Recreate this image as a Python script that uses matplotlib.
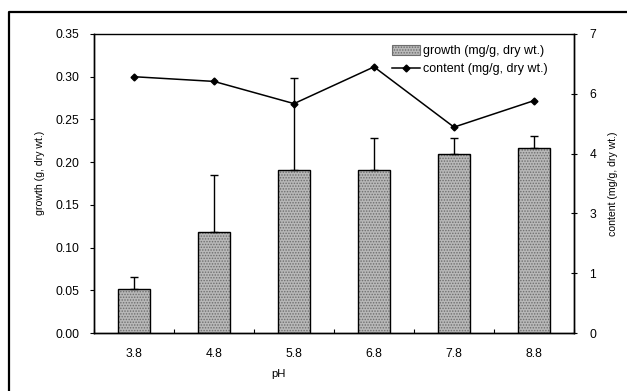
import numpy as np
import matplotlib
matplotlib.use("Agg")
from matplotlib import pyplot as plt
from matplotlib.patches import Patch
from matplotlib.lines import Line2D
from matplotlib.ticker import FormatStrFormatter

# pH series: growth (bars, left axis) and content (line, right axis)
ph = ['3.8', '4.8', '5.8', '6.8', '7.8', '8.8']
growth = [0.052, 0.118, 0.191, 0.191, 0.210, 0.216]
growth_err = [0.013, 0.067, 0.107, 0.037, 0.018, 0.015]
content = [6.00, 5.89, 5.37, 6.23, 4.82, 5.44]

plt.rcParams['font.family'] = ['Liberation Sans', 'DejaVu Sans']
plt.rcParams['hatch.linewidth'] = 0.7

fig = plt.figure(figsize=(6.27, 3.91), dpi=100)
ax = fig.add_axes([94/627, 1 - 333/391, 480/627, 299/391])
ax2 = ax.twinx()

x = np.arange(len(ph))
w = 0.41
bar_face = '#b8b8b8'
stipple = '#6e6e6e'
tick_fs = 8.7

# stippled fill, then a black outline on top
ax.bar(x, growth, width=w, color=bar_face, edgecolor=stipple, hatch='......',
       linewidth=0, zorder=2)
ax.bar(x, growth, width=w, fill=False, edgecolor='black', linewidth=1.0, zorder=3)
ax.errorbar(x, growth, yerr=[np.zeros(len(x)), growth_err], fmt='none',
            ecolor='black', elinewidth=1.0, capsize=3, capthick=1.0, zorder=4)

ax2.plot(x, content, color='black', lw=1.1, marker='D', ms=3.5, zorder=5)

ax.set_xlim(-0.5, len(ph) - 0.5)
ax.set_ylim(0, 0.35)
ax.set_yticks(np.arange(0, 0.351, 0.05))
ax.yaxis.set_major_formatter(FormatStrFormatter('%.2f'))
ax2.set_ylim(0, 7)
ax2.set_yticks(np.linspace(0, 7, 6))
ax2.yaxis.set_major_formatter(FormatStrFormatter('%.0f'))

ax.set_xticks(x)
ax.set_xticklabels(ph)
ax.set_xticks(np.arange(-0.5, len(ph)), minor=True)
ax.tick_params(axis='x', which='major', length=0, pad=10.8, labelsize=tick_fs)
ax.tick_params(axis='x', which='minor', direction='in', length=3, width=0.8)
ax.tick_params(axis='y', direction='out', length=3, width=0.8, pad=7.5, labelsize=tick_fs)
ax2.tick_params(axis='y', direction='inout', length=5, width=0.8, pad=8.5, labelsize=tick_fs)

for a in (ax, ax2):
    for s in a.spines.values():
        s.set_linewidth(1.0)
ax.spines['top'].set_linewidth(0.6)

ax.set_xlabel('pH', fontsize=8.2)
ax.xaxis.set_label_coords((278 - 94) / 480, -0.12)
ax.set_ylabel('growth (g, dry wt.)', fontsize=7.6)
ax.yaxis.set_label_coords(-0.102, 0.535)
ax2.set_ylabel('content (mg/g, dry wt.)', fontsize=7.6)
ax2.yaxis.set_label_coords(1.07, 0.5)

handles = [
    Patch(facecolor=bar_face, edgecolor=stipple, hatch='......', linewidth=0.8),
    Line2D([], [], color='black', lw=1.1, marker='D', ms=3.5),
]
ax2.legend(handles, ['growth (mg/g, dry wt.)', 'content (mg/g, dry wt.)'],
           loc='upper right', bbox_to_anchor=(0.955, 0.98), frameon=False,
           fontsize=9, handlelength=2.2, handleheight=0.8, handletextpad=0.25,
           labelspacing=0.5, borderaxespad=0)

# outer border of the figure panel
fig.add_artist(Line2D([9/627, 9/627, 1.0], [0.0, 1 - 12/391, 1 - 12/391],
                      transform=fig.transFigure, color='black', lw=1.6))

fig.savefig('out.png', dpi=100)
